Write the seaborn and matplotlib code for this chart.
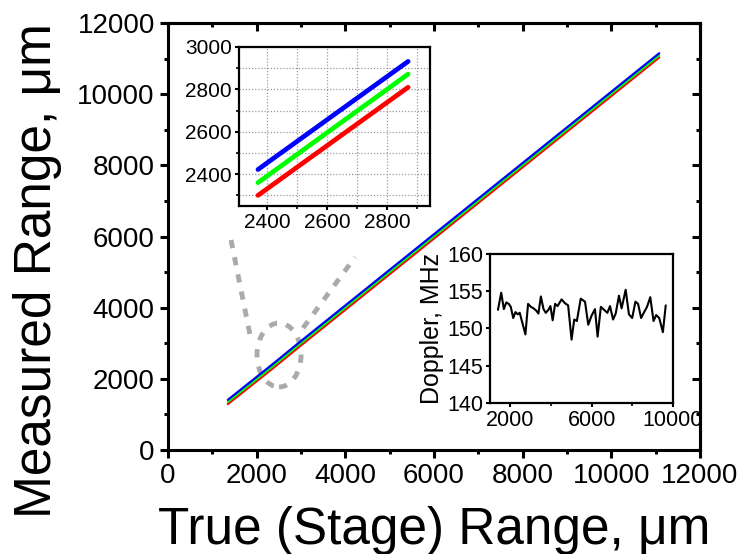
import matplotlib
matplotlib.use("Agg")
import matplotlib.pyplot as plt
import seaborn as sns
import pandas as pd
from matplotlib.patches import Ellipse
from matplotlib.ticker import MultipleLocator, FixedLocator

# ---------------- data ----------------
true_range = [1350, 2370, 2870, 11080]
measured_red = [1290, 2300, 2810, 11030]
measured_green = [1350, 2360, 2872, 11090]
measured_blue = [1410, 2422, 2932, 11150]
series_names = ["red", "green", "blue"]
series_colors = ["#ff0000", "#00ff00", "#0000ff"]

doppler_x = [1390, 1550, 1680, 1800, 1920, 2020, 2140, 2250, 2360, 2460,
             2740, 2870, 3010, 3140, 3270, 3380, 3500, 3630, 3740, 3870,
             3970, 4080, 4200, 4320, 4520, 4680, 4840, 5010, 5140, 5270,
             5460, 5670, 5830, 5990, 6160, 6290, 6450, 6610, 6770, 6900,
             7050, 7180, 7340, 7470, 7670, 7830, 7990, 8150, 8280, 8430,
             8560, 8720, 8880, 9040, 9170, 9320, 9500, 9640]
doppler_mhz = [152.5, 154.8, 152.6, 153.5, 153.3, 152.9, 151.4, 152.2, 151.9, 152.1,
               149.2, 153.3, 152.9, 152.7, 152.4, 152.0, 154.3, 152.6, 152.1, 152.5,
               153.0, 151.1, 153.3, 153.0, 153.9, 153.4, 153.1, 148.5, 151.2, 151.0,
               154.0, 153.6, 150.5, 151.7, 152.6, 148.9, 152.9, 152.5, 152.1, 153.0,
               151.2, 152.0, 154.4, 152.7, 155.2, 151.9, 151.4, 153.6, 153.3, 151.4,
               152.1, 152.9, 154.2, 151.0, 151.8, 151.4, 149.5, 153.1]

main_ticks = [0, 2000, 4000, 6000, 8000, 10000, 12000]
inset_x_ticks = [2400, 2600, 2800]
inset_y_ticks = [2400, 2600, 2800, 3000]
dop_x_ticks = [2000, 6000, 10000]
dop_y_ticks = [140, 145, 150, 155, 160]

rows = []
for name, vals in zip(series_names, [measured_red, measured_green, measured_blue]):
    for t, m in zip(true_range, vals):
        rows.append({"true": t, "measured": m, "series": name})
df = pd.DataFrame(rows)
df_inset = df[(df["true"] >= 2370) & (df["true"] <= 2870)]
df_dop = pd.DataFrame({"x": doppler_x, "d": doppler_mhz})

# ---------------- style ----------------
sns.set_theme(style="ticks")
plt.rcParams["font.family"] = ["Liberation Sans", "DejaVu Sans"]
for k in ["text.color", "axes.labelcolor", "xtick.color", "ytick.color", "axes.edgecolor"]:
    plt.rcParams[k] = "black"
plt.rcParams["axes.linewidth"] = 2.2

fig = plt.figure(figsize=(7.47, 5.54), dpi=100)
ax = fig.add_axes([0.2249, 0.1877, 0.7122, 0.7708])

sns.lineplot(data=df, x="true", y="measured", hue="series", hue_order=series_names,
             palette=series_colors, lw=1.6, legend=False, ax=ax, zorder=3)

gray = "#aaaaaa"
ax.plot([1421, 1850], [5901, 3232], color=gray, lw=3.5, ls=(0, (1.7, 1.9)), zorder=1)
ax.plot([3046, 4219], [3428, 5423], color=gray, lw=3.5, ls=(0, (1.7, 1.9)), zorder=1)
ax.add_patch(Ellipse((2504, 2670), 993, 1798, fill=False, ec=gray, lw=3.5,
                     ls=(0, (1.7, 1.9)), zorder=1))

ax.set_xlim(0, 12000)
ax.set_ylim(0, 12000)
ax.xaxis.set_major_locator(FixedLocator(main_ticks))
ax.yaxis.set_major_locator(FixedLocator(main_ticks))
ax.xaxis.set_minor_locator(MultipleLocator(1000))
ax.yaxis.set_minor_locator(MultipleLocator(1000))
ax.tick_params(which="major", direction="out", length=6, width=2.2, labelsize=20,
               color="black", labelcolor="black")
ax.tick_params(which="minor", direction="out", length=3, width=2.2)
for s in ax.spines.values():
    s.set_color("black")
    s.set_linewidth(2.2)
ax.set_xlabel("True (Stage) Range, μm", fontsize=37, labelpad=12)
ax.set_ylabel("Measured Range, μm", fontsize=37)
ax.yaxis.set_label_coords(-0.199, 0.42)

# inward ticks on top / right
sec_x = ax.secondary_xaxis("top")
sec_x.xaxis.set_major_locator(FixedLocator(main_ticks))
sec_x.xaxis.set_minor_locator(MultipleLocator(1000))
sec_x.tick_params(which="major", direction="in", length=6, width=2.2, labeltop=False)
sec_x.tick_params(which="minor", direction="in", length=3, width=2.2)
sec_x.spines["top"].set_linewidth(2.2)
sec_y = ax.secondary_yaxis("right")
sec_y.yaxis.set_major_locator(FixedLocator(main_ticks))
sec_y.yaxis.set_minor_locator(MultipleLocator(1000))
sec_y.tick_params(which="major", direction="in", length=6, width=2.2, labelright=False)
sec_y.tick_params(which="minor", direction="in", length=3, width=2.2)
sec_y.spines["right"].set_linewidth(2.2)

# ---------------- inset 1 ----------------
ax1 = fig.add_axes([0.320, 0.6282, 0.2557, 0.287])
sns.lineplot(data=df_inset, x="true", y="measured", hue="series", hue_order=series_names,
             palette=series_colors, lw=3.4, legend=False, ax=ax1, zorder=3)
ax1.set_xlim(2307, 2943)
ax1.set_ylim(2250, 3000)
ax1.xaxis.set_major_locator(FixedLocator(inset_x_ticks))
ax1.yaxis.set_major_locator(FixedLocator(inset_y_ticks))
ax1.xaxis.set_minor_locator(MultipleLocator(100))
ax1.yaxis.set_minor_locator(MultipleLocator(100))
ax1.grid(which="both", ls=(0, (1, 1.5)), color="#9a9a9a", lw=0.9)
ax1.tick_params(which="major", direction="out", length=3, width=1.5, labelsize=15, pad=2)
ax1.tick_params(which="minor", direction="out", length=2, width=1.2)
for s in ax1.spines.values():
    s.set_color("black")
    s.set_linewidth(1.6)
ax1.set_xlabel("")
ax1.set_ylabel("")

# ---------------- inset 2 ----------------
ax2 = fig.add_axes([0.656, 0.2726, 0.245, 0.269])
sns.lineplot(data=df_dop, x="x", y="d", color="black", lw=1.5, ax=ax2)
ax2.set_xlim(1000, 10000)
ax2.set_ylim(140, 160)
ax2.xaxis.set_major_locator(FixedLocator(dop_x_ticks))
ax2.xaxis.set_minor_locator(FixedLocator([4000, 8000]))
ax2.yaxis.set_major_locator(FixedLocator(dop_y_ticks))
ax2.tick_params(which="major", direction="out", length=3, width=1.5, labelsize=15.5, pad=2)
ax2.tick_params(which="minor", direction="out", length=2, width=1.2)
for s in ax2.spines.values():
    s.set_color("black")
    s.set_linewidth(1.6)
ax2.set_xlabel("")
ax2.set_ylabel("Doppler, MHz", fontsize=18, labelpad=2)

fig.savefig("out.png", dpi=100)
